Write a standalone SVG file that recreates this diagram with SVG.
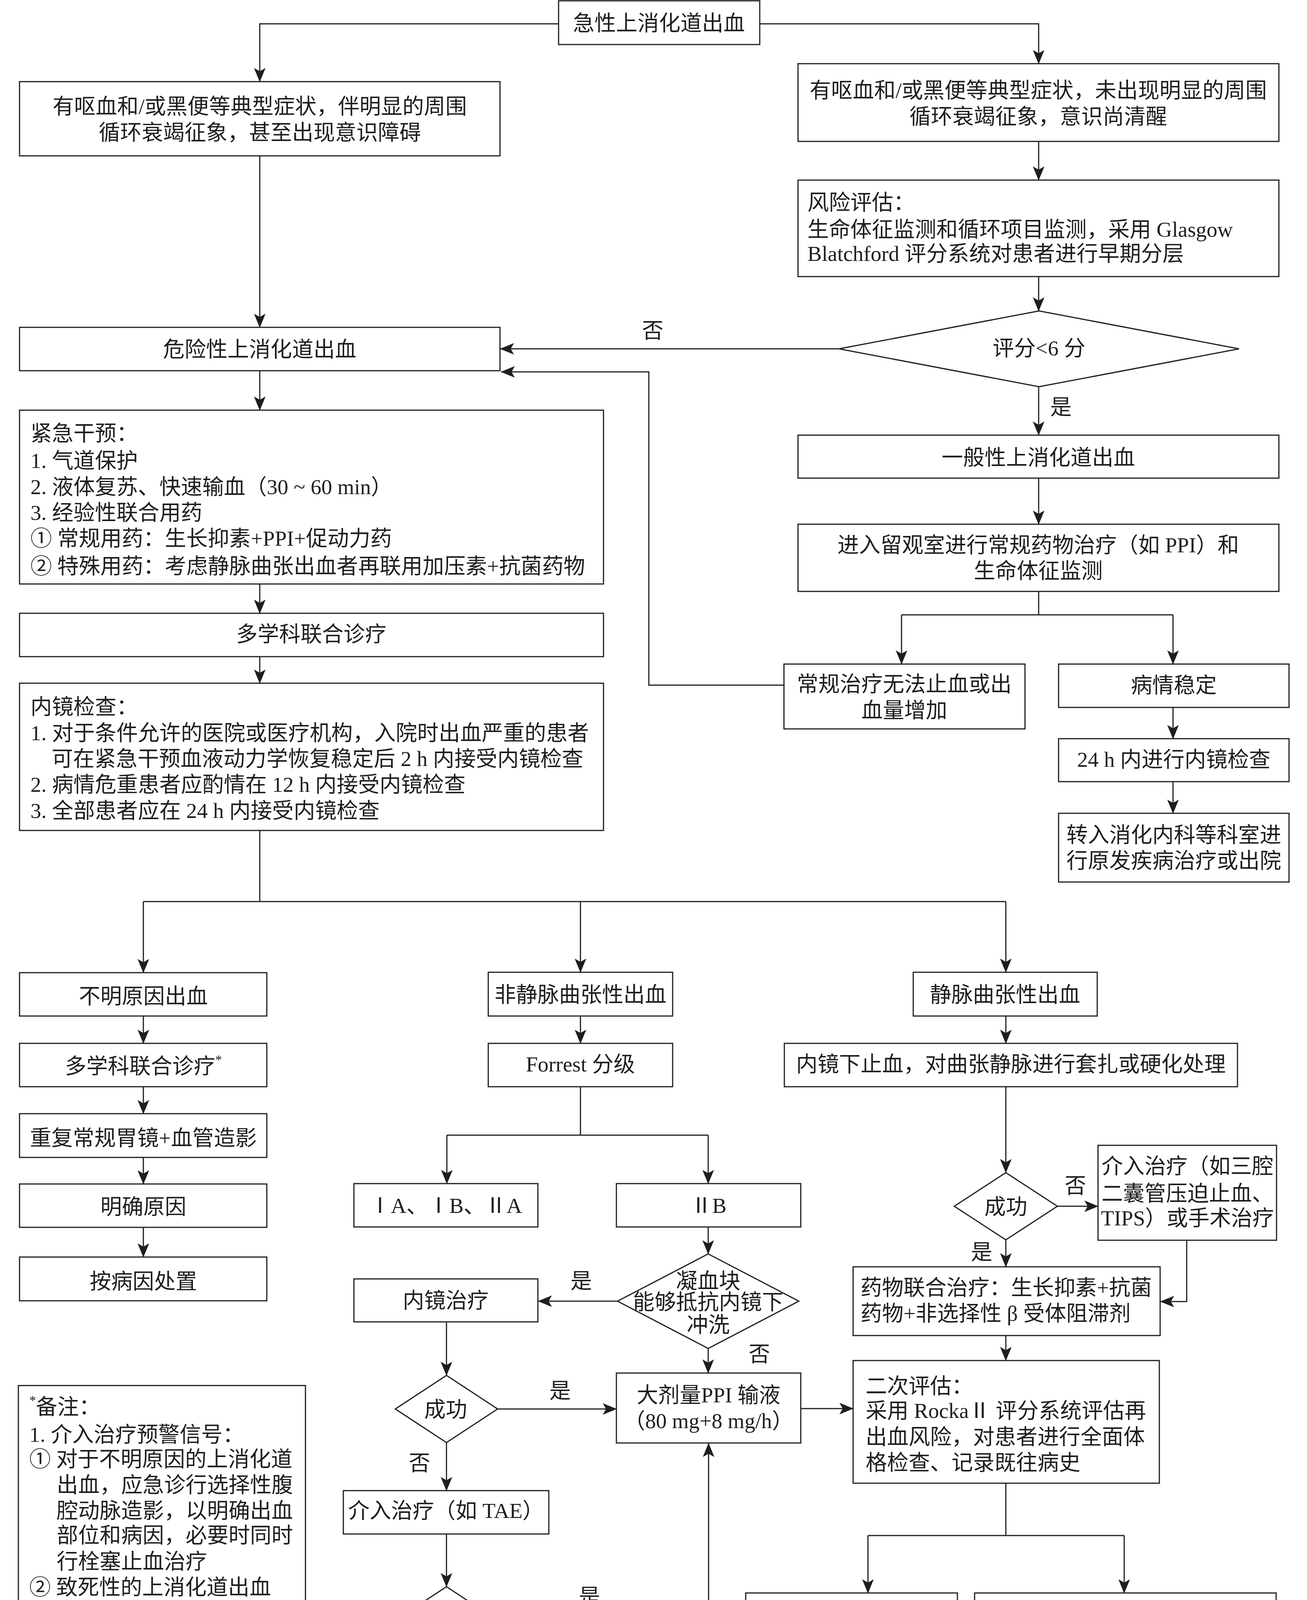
<svg xmlns="http://www.w3.org/2000/svg" width="3346" height="4595" viewBox="0 0 3346 4595">
<defs>
<marker id="ah" markerUnits="userSpaceOnUse" markerWidth="36" markerHeight="30" viewBox="0 0 34 28" refX="33" refY="14" orient="auto">
<path d="M0,0 L34,14 L0,28 L8,14 z" fill="#1e1e1e"/>
</marker>
<style>
.b{fill:#fff;stroke:#1e1e1e;stroke-width:3}
.t{font-family:"Liberation Serif","Noto Sans CJK SC",serif;font-size:55px;fill:#1e1e1e}
.c{text-anchor:middle}
.l{fill:none;stroke:#1e1e1e;stroke-width:3}
.a{marker-end:url(#ah)}
</style>
</defs>
<rect width="3346" height="4595" fill="#fff"/>
<g id="connectors">
<path class="l a" d="M1430,61 H665 V209"/>
<path class="l a" d="M1945,61 H2659 V163"/>
<path class="l a" d="M665,399 V838"/>
<path class="l a" d="M2659,362 V461"/>
<path class="l a" d="M2659,708 V796"/>
<path class="l a" d="M2148,893 H1281"/>
<path class="l a" d="M2659,990 V1114"/>
<path class="l a" d="M2659,1224 V1342"/>
<path class="l" d="M2659,1514 V1574 M2308,1574 H3003"/>
<path class="l a" d="M2308,1574 V1700"/>
<path class="l a" d="M3003,1574 V1700"/>
<path class="l a" d="M2007,1754 H1661 V952 H1283"/>
<path class="l a" d="M3003,1811 V1891"/>
<path class="l a" d="M3003,2001 V2082"/>
<path class="l a" d="M665,949 V1050"/>
<path class="l a" d="M665,1495 V1570"/>
<path class="l a" d="M665,1681 V1749"/>
<path class="l" d="M665,2126 V2308 M367,2308 H2575"/>
<path class="l a" d="M367,2308 V2490"/>
<path class="l a" d="M1486,2308 V2489"/>
<path class="l a" d="M2575,2308 V2489"/>
<path class="l a" d="M367,2601 V2671"/>
<path class="l a" d="M367,2782 V2851"/>
<path class="l a" d="M367,2963 V3031"/>
<path class="l a" d="M367,3142 V3218"/>
<path class="l a" d="M1486,2601 V2671"/>
<path class="l" d="M1486,2782 V2906 M1144,2906 H1813"/>
<path class="l a" d="M1144,2906 V3030"/>
<path class="l a" d="M1813,2906 V3030"/>
<path class="l a" d="M1813,3141 V3210"/>
<path class="l a" d="M1581,3331 H1378"/>
<path class="l a" d="M1813,3452 V3515"/>
<path class="l a" d="M1143,3384 V3521"/>
<path class="l a" d="M1274,3607 H1578"/>
<path class="l a" d="M1143,3693 V3816"/>
<path class="l a" d="M1143,3927 V4062"/>
<path class="l a" d="M1274,4148 H1814 V3695"/>
<path class="l a" d="M1143,4234 V4336"/>
<path class="l a" d="M2050,3606 H2184"/>
<path class="l a" d="M2575,2601 V2671"/>
<path class="l a" d="M2575,2782 V3002"/>
<path class="l a" d="M2707,3088 H2811"/>
<path class="l a" d="M2575,3174 V3243"/>
<path class="l a" d="M3038,3175 V3332 H2971"/>
<path class="l a" d="M2575,3419 V3483"/>
<path class="l" d="M2575,3797 V3931 M2222,3931 H2878"/>
<path class="l a" d="M2222,3931 V4078"/>
<path class="l a" d="M2878,3931 V4078"/>
<text class="t c" x="1671" y="865">否</text>
<text class="t c" x="2716" y="1061">是</text>
<text class="t c" x="1488" y="3298">是</text>
<text class="t c" x="1944" y="3485">否</text>
<text class="t c" x="1434" y="3579">是</text>
<text class="t c" x="1074" y="3764">否</text>
<text class="t c" x="1509" y="4106">是</text>
<text class="t c" x="1074" y="4305">否</text>
<text class="t c" x="2753" y="3054">否</text>
<text class="t c" x="2513" y="3224">是</text>
</g>
<g id="n_top"><rect class="b" x="1430" y="2" width="515" height="112"/><text class="t c" x="1687" y="78">急性上消化道出血</text></g>
<g id="n_severe_sym"><rect class="b" x="50" y="209" width="1230" height="190"/><text class="t c" x="665" y="291">有呕血和/或黑便等典型症状，伴明显的周围</text><text class="t c" x="665" y="358">循环衰竭征象，甚至出现意识障碍</text></g>
<g id="n_mild_sym"><rect class="b" x="2043" y="163" width="1231" height="199"/><text class="t c" x="2658" y="250">有呕血和/或黑便等典型症状，未出现明显的周围</text><text class="t c" x="2658" y="317">循环衰竭征象，意识尚清醒</text></g>
<g id="n_risk"><rect class="b" x="2043" y="461" width="1231" height="247"/><text class="t" x="2067" y="537">风险评估：</text><text class="t" x="2067" y="606">生命体征监测和循环项目监测，采用 Glasgow</text><text class="t" x="2067" y="668">Blatchford 评分系统对患者进行早期分层</text></g>
<g id="n_score"><polygon class="b" points="2660,796 3172,893 2660,990 2148,893"/><text class="t c" x="2660" y="910">评分&lt;6 分</text></g>
<g id="n_danger"><rect class="b" x="50" y="838" width="1230" height="111"/><text class="t c" x="665" y="913">危险性上消化道出血</text></g>
<g id="n_general"><rect class="b" x="2043" y="1114" width="1231" height="110"/><text class="t c" x="2658" y="1190">一般性上消化道出血</text></g>
<g id="n_observe"><rect class="b" x="2043" y="1342" width="1231" height="172"/><text class="t c" x="2658" y="1414">进入留观室进行常规药物治疗（如 PPI）和</text><text class="t c" x="2658" y="1480">生命体征监测</text></g>
<g id="n_fail"><rect class="b" x="2007" y="1700" width="617" height="166"/><text class="t c" x="2315" y="1770">常规治疗无法止血或出</text><text class="t c" x="2315" y="1837">血量增加</text></g>
<g id="n_stable"><rect class="b" x="2710" y="1700" width="590" height="111"/><text class="t c" x="3005" y="1773">病情稳定</text></g>
<g id="n_24h"><rect class="b" x="2710" y="1891" width="590" height="110"/><text class="t c" x="3005" y="1963">24 h 内进行内镜检查</text></g>
<g id="n_transfer"><rect class="b" x="2710" y="2082" width="590" height="176"/><text class="t c" x="3005" y="2156">转入消化内科等科室进</text><text class="t c" x="3005" y="2222">行原发疾病治疗或出院</text></g>
<g id="n_emergency"><rect class="b" x="50" y="1050" width="1495" height="445"/>
<text class="t" x="78" y="1128">紧急干预：</text>
<text class="t" x="78" y="1198">1. 气道保护</text>
<text class="t" x="78" y="1265">2. 液体复苏、快速输血（30 ~ 60 min）</text>
<text class="t" x="78" y="1331">3. 经验性联合用药</text>
<text class="t" x="78" y="1397">① 常规用药：生长抑素+PPI+促动力药</text>
<text class="t" x="78" y="1468">② 特殊用药：考虑静脉曲张出血者再联用加压素+抗菌药物</text></g>
<g id="n_mdt"><rect class="b" x="50" y="1570" width="1495" height="111"/><text class="t c" x="797" y="1642">多学科联合诊疗</text></g>
<g id="n_endo"><rect class="b" x="50" y="1749" width="1495" height="377"/>
<text class="t" x="78" y="1828">内镜检查：</text>
<text class="t" x="78" y="1895">1. 对于条件允许的医院或医疗机构，入院时出血严重的患者</text>
<text class="t" x="132" y="1961">可在紧急干预血液动力学恢复稳定后 2 h 内接受内镜检查</text>
<text class="t" x="78" y="2027">2. 病情危重患者应酌情在 12 h 内接受内镜检查</text>
<text class="t" x="78" y="2094">3. 全部患者应在 24 h 内接受内镜检查</text></g>
<g id="n_unknown"><rect class="b" x="50" y="2490" width="633" height="111"/><text class="t c" x="367" y="2569">不明原因出血</text></g>
<g id="n_mdt2"><rect class="b" x="50" y="2671" width="633" height="111"/><text class="t c" x="367" y="2748">多学科联合诊疗<tspan font-size="34" dy="-24">*</tspan></text></g>
<g id="n_repeat"><rect class="b" x="50" y="2851" width="633" height="112"/><text class="t c" x="367" y="2932">重复常规胃镜+血管造影</text></g>
<g id="n_clear"><rect class="b" x="50" y="3031" width="633" height="111"/><text class="t c" x="367" y="3108">明确原因</text></g>
<g id="n_cause"><rect class="b" x="50" y="3218" width="633" height="112"/><text class="t c" x="367" y="3299">按病因处置</text></g>
<g id="n_nonvar"><rect class="b" x="1250" y="2489" width="472" height="112"/><text class="t c" x="1486" y="2565">非静脉曲张性出血</text></g>
<g id="n_forrest"><rect class="b" x="1250" y="2671" width="472" height="111"/><text class="t c" x="1486" y="2743">Forrest 分级</text></g>
<g id="n_f1"><rect class="b" x="906" y="3030" width="471" height="111"/><text class="t c" x="1141" y="3105">ⅠA、ⅠB、ⅡA</text></g>
<g id="n_f2"><rect class="b" x="1578" y="3030" width="472" height="111"/><text class="t c" x="1814" y="3105">ⅡB</text></g>
<g id="n_clot"><polygon class="b" points="1813,3210 2045,3331 1813,3452 1581,3331"/><text class="t c" x="1813" y="3298" font-size="54">凝血块</text><text class="t c" x="1813" y="3352" font-size="54">能够抵抗内镜下</text><text class="t c" x="1813" y="3410" font-size="54">冲洗</text></g>
<g id="n_endotx"><rect class="b" x="906" y="3274" width="471" height="110"/><text class="t c" x="1141" y="3348">内镜治疗</text></g>
<g id="n_ok1"><polygon class="b" points="1143,3521 1274,3607 1143,3693 1012,3607"/><text class="t c" x="1141" y="3627">成功</text></g>
<g id="n_ppi"><rect class="b" x="1578" y="3515" width="472" height="179"/><text class="t c" x="1814" y="3590">大剂量PPI 输液</text><text class="t c" x="1814" y="3656">（80 mg+8 mg/h）</text></g>
<g id="n_tae"><rect class="b" x="879" y="3816" width="526" height="111"/><text class="t c" x="1142" y="3886">介入治疗（如 TAE）</text></g>
<g id="n_ok2"><polygon class="b" points="1143,4062 1274,4148 1143,4234 1012,4148"/><text class="t c" x="1141" y="4168">成功</text></g>
<g id="n_surgery"><rect class="b" x="906" y="4336" width="471" height="110"/><text class="t c" x="1141" y="4410">手术治疗</text></g>
<g id="n_var"><rect class="b" x="2338" y="2489" width="471" height="112"/><text class="t c" x="2573" y="2565">静脉曲张性出血</text></g>
<g id="n_ligation"><rect class="b" x="2008" y="2671" width="1160" height="111"/><text class="t c" x="2588" y="2743">内镜下止血，对曲张静脉进行套扎或硬化处理</text></g>
<g id="n_ok3"><polygon class="b" points="2575,3002 2707,3088 2575,3174 2443,3088"/><text class="t c" x="2575" y="3108">成功</text></g>
<g id="n_interv"><rect class="b" x="2811" y="2932" width="457" height="243"/><text class="t c" x="3040" y="3004">介入治疗（如三腔</text><text class="t c" x="3040" y="3074">二囊管压迫止血、</text><text class="t c" x="3040" y="3137">TIPS）或手术治疗</text></g>
<g id="n_drug"><rect class="b" x="2184" y="3243" width="786" height="176"/><text class="t" x="2203" y="3315">药物联合治疗：生长抑素+抗菌</text><text class="t" x="2203" y="3381">药物+非选择性 β 受体阻滞剂</text></g>
<g id="n_reassess"><rect class="b" x="2184" y="3483" width="784" height="314"/>
<text class="t" x="2216" y="3567">二次评估：</text>
<text class="t" x="2216" y="3630">采用 RockaⅡ 评分系统评估再</text>
<text class="t" x="2216" y="3697">出血风险，对患者进行全面体</text>
<text class="t" x="2216" y="3763">格检查、记录既往病史</text></g>
<g id="n_low"><rect class="b" x="1909" y="4078" width="542" height="514"/>
<text class="t" x="1924" y="4220" textLength="503">再出血风险低(&lt;6分)</text>
<text class="t" x="1924" y="4286">的患者根据体格检查</text>
<text class="t" x="1924" y="4353">结果和病史转入其他</text>
<text class="t" x="1924" y="4420">科室进行原发疾病治</text>
<text class="t" x="1924" y="4486">疗及随访</text></g>
<g id="n_high"><rect class="b" x="2495" y="4078" width="772" height="514"/>
<text class="t" x="2515" y="4153">再出血风险高（≥6 分）的患者</text>
<text class="t" x="2515" y="4219">酌情进行二次内镜检查，探查</text>
<text class="t" x="2515" y="4285">是否有再出血或潜在再出血的</text>
<text class="t" x="2515" y="4352">可能，并进行对应预防或治疗。</text>
<text class="t" x="2515" y="4418">再根据体格检查结果和病史转</text>
<text class="t" x="2515" y="4484">入消化内科等科室进行原发疾</text>
<text class="t" x="2515" y="4550">病治疗及随访</text></g>
<g id="n_note"><rect class="b" x="47" y="3547" width="735" height="1045"/>
<text class="t" x="75" y="3620"><tspan font-size="34" dy="-24">*</tspan><tspan dy="24">备注：</tspan></text>
<text class="t" x="75" y="3691">1. 介入治疗预警信号：</text>
<text class="t" x="75" y="3754">① 对于不明原因的上消化道</text>
<text class="t" x="145" y="3820">出血，应急诊行选择性腹</text>
<text class="t" x="145" y="3886">腔动脉造影，以明确出血</text>
<text class="t" x="145" y="3949">部位和病因，必要时同时</text>
<text class="t" x="145" y="4016">行栓塞止血治疗</text>
<text class="t" x="75" y="4082">② 致死性的上消化道出血</text>
<text class="t" x="75" y="4148">2. 手术治疗预警信号：</text>
<text class="t" x="75" y="4211">① 持续性出血</text>
<text class="t" x="75" y="4277">② 病因不明确，出血不止，</text>
<text class="t" x="145" y="4344">病情凶险</text>
<text class="t" x="75" y="4413">3. 不明原因出血的多学科联</text>
<text class="t" x="130" y="4480">合诊疗会诊要求：消化内</text>
<text class="t" x="130" y="4543">科+介入科+外科</text></g>
</svg>
